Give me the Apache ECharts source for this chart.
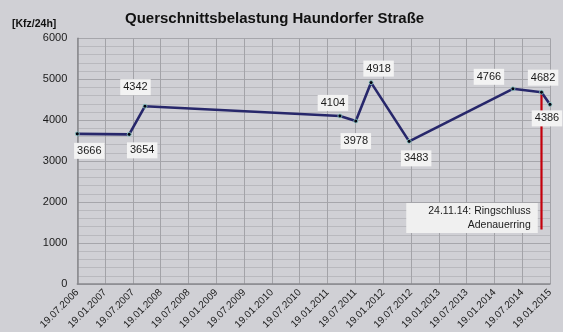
<!DOCTYPE html>
<html>
<head>
<meta charset="utf-8">
<script src="https://cdn.jsdelivr.net/npm/echarts@6/dist/echarts.min.js"></script>
<style>
  html, body { margin: 0; padding: 0; background: #d0d0d5; }
  #chart { width: 563px; height: 332px; }
</style>
</head>
<body>
<div id="chart"></div>
<script>
// Traffic counts (vehicles per 24h) on Haundorfer Straße
const countDates = ['2006-07-19', '2007-06-25', '2007-10-07', '2011-04-09', '2011-07-22',
                    '2011-10-31', '2012-07-07', '2014-05-19', '2014-11-24', '2015-01-19'];
const countValues = [3666, 3654, 4342, 4104, 3978, 4918, 3483, 4766, 4682, 4386];

// Half-year tick labels along the date axis
const tickLabels = ['19.07.2006', '19.01.2007', '19.07.2007', '19.01.2008', '19.07.2008',
                    '19.01.2009', '19.07.2009', '19.01.2010', '19.07.2010', '19.01.2011',
                    '19.07.2011', '19.01.2012', '19.07.2012', '19.01.2013', '19.07.2013',
                    '19.01.2014', '19.07.2014', '19.01.2015'];
const yTicks = [0, 1000, 2000, 3000, 4000, 5000, 6000];

// Ring closure event marker
const ringschlussDate = '2014-11-24';
const ringschlussRange = [4682, 1330];
const ringschlussText = '24.11.14: Ringschluss\nAdenauerring';

// Label placement (offset from point centre to label centre, px)
const labelOffsets = [[12, 17], [13, 16], [-9.5, -19], [-7, -13], [0, 20],
                      [7.5, -14], [7, 17], [-24, -12], [1.6, -14.6], [-3, 14]];

const FONT = "'Liberation Sans', Arial, Helvetica, sans-serif";

// Date axis measured in months since the first tick (19.07.2006)
function monthsSinceStart(s) {
  const [y, m, d] = s.split('-').map(Number);
  return (y - 2006) * 12 + (m - 7) + (d - 19) / 30.44;
}

const lineData = countDates.map((d, i) => ({
  value: [monthsSinceStart(d), countValues[i]],
  label: { offset: labelOffsets[i] }
}));

const eventX = monthsSinceStart(ringschlussDate);
const eventData = [
  { value: [eventX, ringschlussRange[0]] },
  {
    value: [eventX, ringschlussRange[1]],
    label: {
      show: true,
      formatter: ringschlussText,
      position: 'inside',
      align: 'right',
      verticalAlign: 'bottom',
      offset: [-3.7, 3.6],
      fontFamily: FONT,
      fontSize: 10.5,
      lineHeight: 13.5,
      color: '#1a1a1a',
      backgroundColor: '#f0f0f0',
      padding: [1.5, 7, 1.5, 22]
    }
  }
];

const chart = echarts.init(document.getElementById('chart'), null, { renderer: 'canvas' });
chart.setOption({
  backgroundColor: '#d0d0d5',
  animation: false,
  title: [
    {
      text: 'Querschnittsbelastung Haundorfer Straße',
      left: 120, top: 6,
      textStyle: { fontFamily: FONT, fontSize: 15, fontWeight: 'bold', color: '#111' }
    },
    {
      text: '[Kfz/24h]',
      left: 7, top: 14,
      textStyle: { fontFamily: FONT, fontSize: 10.5, fontWeight: 'bold', color: '#111' }
    }
  ],
  grid: { left: 77.3, right: 13, top: 38.3, bottom: 47, containLabel: false },
  xAxis: {
    type: 'value',
    min: 0,
    max: (tickLabels.length - 1) * 6,
    interval: 6,
    axisLine: { show: true, lineStyle: { color: '#88888d', width: 1.5 } },
    axisTick: { show: false },
    splitLine: { show: true, lineStyle: { color: '#a3a3a8', width: 1 } },
    axisLabel: {
      rotate: 45,
      margin: 7,
      fontFamily: FONT,
      fontSize: 10,
      color: '#1a1a1a',
      showMinLabel: true,
      showMaxLabel: true,
      formatter: v => tickLabels[Math.round(v / 6)]
    }
  },
  yAxis: {
    type: 'value',
    min: yTicks[0],
    max: yTicks[yTicks.length - 1],
    interval: yTicks[1] - yTicks[0],
    axisLine: { show: true, lineStyle: { color: '#88888d', width: 1.5 } },
    axisTick: { show: false },
    minorTick: { show: false, splitNumber: 5 },
    splitLine: { show: true, lineStyle: { color: '#a6a6ab', width: 1 } },
    minorSplitLine: { show: true, lineStyle: { color: '#b9b9be', width: 1 } },
    axisLabel: {
      margin: 10, fontFamily: FONT, fontSize: 11, color: '#1a1a1a',
      formatter: v => String(v)
    }
  },
  series: [
    {
      name: 'Ringschluss',
      type: 'line',
      data: eventData,
      symbol: 'circle',
      symbolSize: 1,
      itemStyle: { color: 'rgba(0,0,0,0)' },
      lineStyle: { color: '#c4000c', width: 2.2 },
      label: { show: false },
      clip: false,
      z: 2
    },
    {
      name: 'Querschnittsbelastung',
      type: 'line',
      data: lineData,
      symbol: 'circle',
      symbolSize: 4,
      itemStyle: { color: '#050510', borderColor: '#8fd0d0', borderWidth: 0.8 },
      lineStyle: { color: '#27276b', width: 2.6 },
      label: {
        show: true,
        position: 'inside',
        align: 'center',
        verticalAlign: 'middle',
        fontFamily: FONT,
        fontSize: 11,
        lineHeight: 13,
        color: '#1a1a1a',
        backgroundColor: '#f3f3f3',
        padding: [2, 3, 1, 3],
        formatter: p => String(p.value[1])
      },
      clip: false,
      z: 3
    }
  ]
});
</script>
</body>
</html>
